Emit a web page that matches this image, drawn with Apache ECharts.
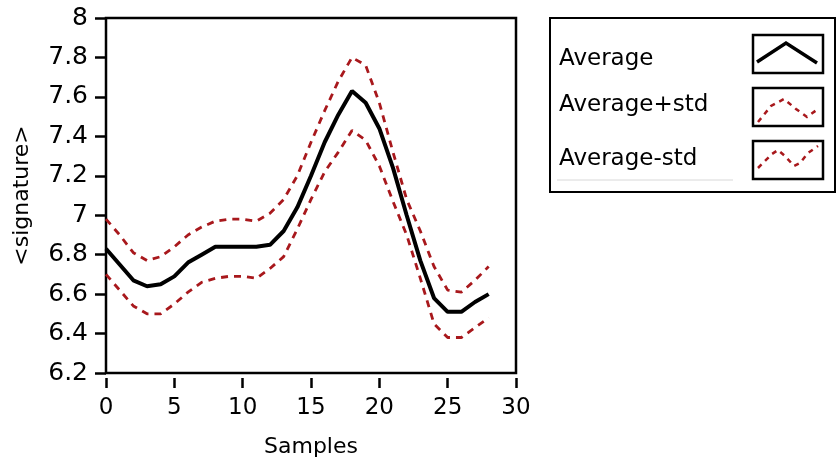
<!DOCTYPE html>
<html>
<head>
<meta charset="utf-8">
<script src="https://cdn.jsdelivr.net/npm/echarts@6/dist/echarts.min.js"></script>
<style>
  html, body { margin: 0; padding: 0; background: #fff; }
  #chart { width: 837px; height: 464px; }
</style>
</head>
<body>
<div id="chart"></div>
<script>
// Sample index along the x axis
const samples = [0,1,2,3,4,5,6,7,8,9,10,11,12,13,14,15,16,17,18,19,20,21,22,23,24,25,26,27,28];

// Mean signature per sample
const average = [6.83,6.75,6.67,6.64,6.65,6.69,6.76,6.80,6.84,6.84,6.84,6.84,6.85,6.92,7.04,7.20,7.37,7.51,7.63,7.57,7.44,7.24,7.00,6.77,6.58,6.51,6.51,6.56,6.60];

// Mean plus one standard deviation
const averagePlusStd = [6.98,6.90,6.81,6.77,6.79,6.84,6.90,6.94,6.97,6.98,6.98,6.97,7.01,7.08,7.20,7.37,7.53,7.68,7.80,7.76,7.57,7.32,7.08,6.92,6.74,6.62,6.61,6.67,6.74];

// Mean minus one standard deviation
const averageMinusStd = [6.70,6.62,6.54,6.50,6.50,6.55,6.61,6.66,6.68,6.69,6.69,6.68,6.73,6.79,6.93,7.08,7.22,7.32,7.43,7.38,7.25,7.07,6.90,6.68,6.45,6.38,6.38,6.43,6.48];

const seriesNames = ['Average', 'Average+std', 'Average-std'];

const FONT = '"DejaVu Sans", Verdana, sans-serif';
const RED = '#a8181c';
const DASH = [7, 6];

const pairs = (ys) => samples.map((x, i) => [x, ys[i]]);

const chart = echarts.init(document.getElementById('chart'), null, { renderer: 'canvas' });

// Legend panel: label text plus a framed line-style swatch per series
const legendTop = 18, legendLeft = 550, legendW = 285, legendH = 174;
const swatchX = 753, swatchW = 70, swatchH = 38;
const rows = [
  { name: seriesNames[0], textY: 62, boxY: 35, color: '#000', dash: null, width: 3.5,
    pts: [[757, 62], [786, 43], [817, 63]] },
  { name: seriesNames[1], textY: 108, boxY: 88, color: RED, dash: [5, 5], width: 2.5,
    pts: [[758, 122], [771, 106], [784, 99], [796, 109], [807, 117], [818, 109]] },
  { name: seriesNames[2], textY: 162, boxY: 141, color: RED, dash: [5, 5], width: 2.5,
    pts: [[758, 168], [772, 154], [778, 150], [785, 156], [794, 166], [800, 163], [808, 153], [818, 146]] }
];

const graphics = [
  { type: 'rect', shape: { x: legendLeft, y: legendTop, width: legendW, height: legendH },
    style: { fill: '#fff', stroke: '#000', lineWidth: 2 } },
  { type: 'line', shape: { x1: 557, y1: 180, x2: 733, y2: 180 },
    style: { stroke: '#d8d8d8', lineWidth: 1 } }
];
rows.forEach(r => {
  graphics.push({ type: 'text', left: 559, top: r.textY - 14,
    style: { text: r.name, font: '23px ' + FONT, fill: '#000' } });
  graphics.push({ type: 'rect', shape: { x: swatchX, y: r.boxY, width: swatchW, height: swatchH },
    style: { fill: '#fff', stroke: '#000', lineWidth: 2.5 } });
  graphics.push({ type: 'polyline', shape: { points: r.pts },
    style: { stroke: r.color, lineWidth: r.width, lineDash: r.dash, fill: null } });
});

const lineSeries = (name, data, color, width, type) => ({
  name, type: 'line', data: pairs(data), showSymbol: false, smooth: false,
  lineStyle: { color, width, type },
  itemStyle: { color }, z: name === 'Average' ? 3 : 2
});

chart.setOption({
  animation: false,
  backgroundColor: '#fff',
  grid: { left: 106, right: 321, top: 18, bottom: 91, show: true,
          borderColor: '#000', borderWidth: 2.5, backgroundColor: '#fff' },
  xAxis: {
    type: 'value', min: 0, max: 30, interval: 5, offset: 5,
    name: 'Samples', nameLocation: 'middle', nameGap: 58,
    nameTextStyle: { fontFamily: FONT, fontSize: 22, color: '#000' },
    axisLine: { show: false },
    axisTick: { show: true, length: 10, lineStyle: { color: '#000', width: 2.5 } },
    axisLabel: { color: '#000', fontFamily: FONT, fontSize: 23, margin: 19 },
    splitLine: { show: false }
  },
  yAxis: {
    type: 'value', min: 6.2, max: 8, interval: 0.2, offset: 3,
    name: '<signature>', nameLocation: 'middle', nameGap: 70,
    nameTextStyle: { fontFamily: FONT, fontSize: 22, color: '#000' },
    axisLine: { show: false },
    axisTick: { show: true, length: 11, lineStyle: { color: '#000', width: 2.5 } },
    axisLabel: { color: '#000', fontFamily: FONT, fontSize: 25, margin: 15,
                 formatter: v => String(+v.toFixed(1)) },
    splitLine: { show: false }
  },
  graphic: graphics,
  series: [
    lineSeries(seriesNames[1], averagePlusStd, RED, 2.8, DASH),
    lineSeries(seriesNames[2], averageMinusStd, RED, 2.8, DASH),
    lineSeries(seriesNames[0], average, '#000', 4, 'solid')
  ]
});
</script>
</body>
</html>
